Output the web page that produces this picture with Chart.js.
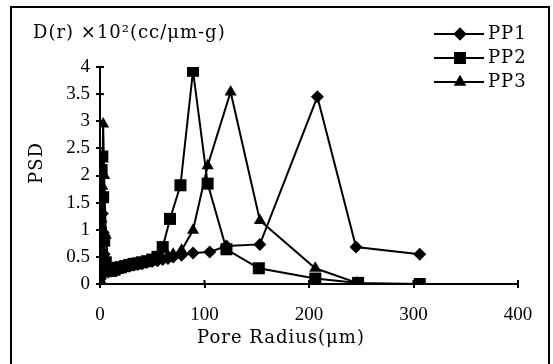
<!DOCTYPE html>
<html><head><meta charset="utf-8">
<script src="https://cdn.jsdelivr.net/npm/chart.js@4/dist/chart.umd.min.js"></script>
<style>
html,body{margin:0;padding:0;background:#fff;overflow:hidden;}
#wrap{position:relative;width:553px;height:364px;}
#frame{position:absolute;left:10px;top:6px;width:536px;height:400px;border:2px solid #000;border-bottom:none;}
canvas{position:absolute;left:0;top:0;}
</style></head><body>
<div id="wrap"><div id="frame"></div><canvas id="c" width="553" height="364"></canvas></div>
<script>
const seriesNames = ['PP1', 'PP2', 'PP3'];
const seriesStyles = ['rectRot', 'rect', 'triangle'];

const pp1X = [0.3, 0.8, 1.5, 2.2, 3, 4, 5.5, 8, 11, 14, 17, 20, 24, 28, 32, 36, 40, 45, 50, 55, 60, 65, 70, 78, 89, 105, 121, 153, 208, 245, 306];
const pp1Y = [0.1, 0.35, 0.75, 1.3, 0.95, 0.55, 0.3, 0.22, 0.24, 0.26, 0.28, 0.3, 0.31, 0.33, 0.35, 0.36, 0.38, 0.4, 0.42, 0.43, 0.45, 0.47, 0.5, 0.53, 0.57, 0.59, 0.7, 0.73, 3.45, 0.68, 0.55];

const pp2X = [0.3, 0.8, 1.5, 2.2, 3, 4, 5.5, 8, 11, 14, 17, 20, 24, 28, 32, 36, 40, 45, 50, 55, 60, 67, 77, 89, 103, 121, 152, 206, 247, 306];
const pp2Y = [0.2, 0.95, 2.1, 2.35, 1.6, 0.8, 0.4, 0.28, 0.25, 0.27, 0.3, 0.31, 0.33, 0.35, 0.37, 0.38, 0.4, 0.42, 0.45, 0.5, 0.68, 1.2, 1.82, 3.93, 1.85, 0.64, 0.29, 0.1, 0.02, 0.0];

const pp3X = [0.3, 0.8, 1.5, 2.2, 3, 4, 5.5, 8, 11, 14, 17, 20, 24, 28, 32, 36, 40, 45, 50, 55, 60, 65, 70, 78, 89, 103, 125, 153, 206, 246];
const pp3Y = [0.08, 0.5, 1.2, 1.8, 2.95, 2.0, 0.9, 0.35, 0.2, 0.22, 0.25, 0.27, 0.3, 0.32, 0.34, 0.36, 0.38, 0.4, 0.42, 0.45, 0.48, 0.52, 0.55, 0.62, 0.99, 2.18, 3.54, 1.17, 0.29, 0.02];

const xTicks = [0, 100, 200, 300, 400];
const yTicks = [0, 0.5, 1, 1.5, 2, 2.5, 3, 3.5, 4];

const topTitle = 'D(r) ×10²(cc/μm-g)';
const xTitle = 'Pore Radius(μm)';
const yTitle = 'PSD';

const FONT = '"Liberation Serif", "Times New Roman", serif';
const TEXT_FONT = '"DejaVu Serif", serif';

function pts(xs, ys) { return xs.map((x, i) => ({ x: x, y: ys[i] })); }
const allX = [pp1X, pp2X, pp3X];
const allY = [pp1Y, pp2Y, pp3Y];
const radii = { rectRot: 6.5, rect: 8.5, triangle: 7 };

const datasets = seriesNames.map((name, i) => ({
  label: name,
  data: pts(allX[i], allY[i]),
  borderColor: '#000',
  backgroundColor: '#000',
  borderWidth: 2,
  pointStyle: seriesStyles[i],
  pointRadius: radii[seriesStyles[i]],
  pointBorderWidth: 0,
  pointBackgroundColor: '#000',
  tension: 0,
  fill: false
}));

const extras = {
  id: 'extras',
  afterDraw(chart) {
    const ctx = chart.ctx;
    const xs = chart.scales.x, ys = chart.scales.y;
    const ca = chart.chartArea;
    ctx.save();
    ctx.strokeStyle = '#000';
    ctx.lineWidth = 2;
    ys.ticks.forEach(t => {
      const y = ys.getPixelForValue(t.value);
      ctx.beginPath(); ctx.moveTo(ca.left, y); ctx.lineTo(ca.left + 4, y); ctx.stroke();
    });
    xs.ticks.forEach(t => {
      const x = xs.getPixelForValue(t.value);
      ctx.beginPath(); ctx.moveTo(x, ca.bottom); ctx.lineTo(x, ca.bottom - 4); ctx.stroke();
    });
    ctx.fillStyle = '#000';
    ctx.font = '18px ' + TEXT_FONT;
    ctx.letterSpacing = '1px';
    ctx.textBaseline = 'middle';
    ctx.textAlign = 'left';
    ctx.fillText(topTitle, 33, 33);
    ctx.textAlign = 'center';
    ctx.fillText(xTitle, 281, 338);
    ctx.save();
    ctx.translate(37, 163);
    ctx.rotate(-Math.PI / 2);
    ctx.fillText(yTitle, 0, 0);
    ctx.restore();
    chart.data.datasets.forEach((ds, i) => {
      const y = 34 + i * 24;
      ctx.strokeStyle = '#000';
      ctx.lineWidth = 2;
      ctx.beginPath(); ctx.moveTo(434, y); ctx.lineTo(484, y); ctx.stroke();
      Chart.helpers.drawPoint(ctx, { pointStyle: ds.pointStyle, radius: ds.pointRadius, rotation: 0, borderWidth: 0 }, 460, y);
      ctx.fillStyle = '#000';
      ctx.fill();
      ctx.textAlign = 'left';
      ctx.fillText(ds.label, 488, y);
    });
    ctx.restore();
  }
};

new Chart(document.getElementById('c'), {
  type: 'line',
  data: { datasets: datasets },
  options: {
    responsive: false,
    animation: false,
    devicePixelRatio: 1,
    layout: { padding: { left: 0, top: 67, right: 35, bottom: 0 } },
    plugins: { legend: { display: false }, tooltip: { enabled: false }, title: { display: false } },
    scales: {
      x: {
        type: 'linear', min: 0, max: 400,
        afterBuildTicks: s => { s.ticks = xTicks.map(v => ({ value: v })); },
        afterFit: s => { s.height = 80; },
        border: { display: true, color: '#000', width: 2 },
        grid: { display: true, drawOnChartArea: false, drawTicks: true, tickLength: 4, color: '#000', lineWidth: 2 },
        ticks: { color: '#000', font: { family: FONT, size: 19 }, padding: 16, maxRotation: 0, callback: v => String(v) }
      },
      y: {
        type: 'linear', min: 0, max: 4,
        afterBuildTicks: s => { s.ticks = yTicks.map(v => ({ value: v })); },
        afterFit: s => { s.width = 100; },
        border: { display: true, color: '#000', width: 2 },
        grid: { display: true, drawOnChartArea: false, drawTicks: true, tickLength: 4, color: '#000', lineWidth: 2 },
        ticks: { color: '#000', font: { family: FONT, size: 19 }, padding: 6, callback: v => String(v) }
      }
    }
  },
  plugins: [extras]
});
</script>
</body></html>
